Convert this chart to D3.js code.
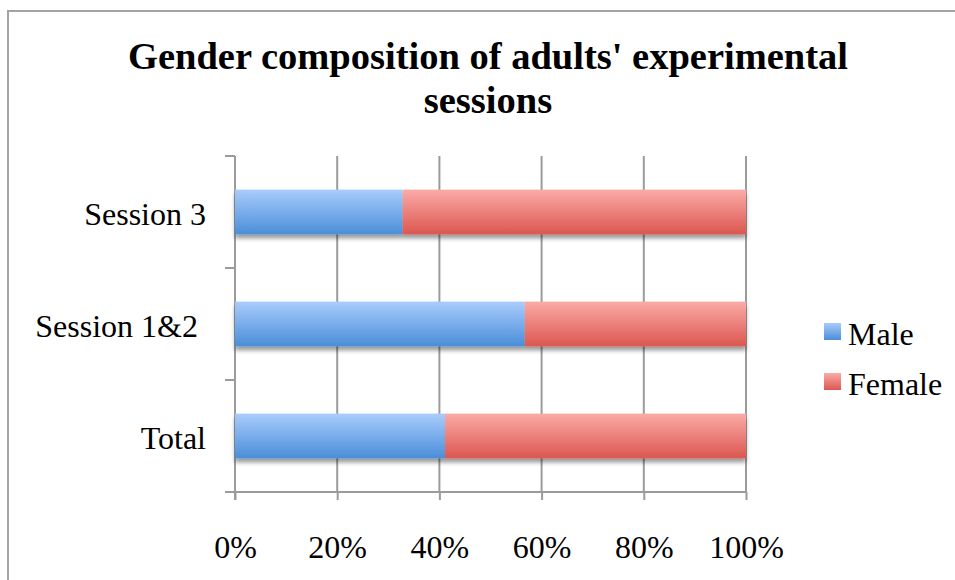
<!DOCTYPE html>
<html>
<head>
<meta charset="utf-8">
<script src="https://cdn.jsdelivr.net/npm/d3@7"></script>
<style>
  html, body { margin: 0; padding: 0; background: #fff; }
  svg { display: block; }
</style>
</head>
<body>
<script>
// Gender share per session (fractions of each session's participants)
const categories = ["Session 3", "Session 1&2 ", "Total"];
const maleShare = [0.328, 0.567, 0.411];
const femaleShare = [0.672, 0.433, 0.589];
const seriesNames = ["Male", "Female"];
const tickValues = [0, 0.2, 0.4, 0.6, 0.8, 1.0];

const FONT = "'Liberation Serif', 'Times New Roman', Tinos, 'DejaVu Serif', serif";

const W = 955, H = 580;
const svg = d3.select("body").append("svg").attr("width", W).attr("height", H);

const defs = svg.append("defs");
function grad(id, c1, c2) {
  const g = defs.append("linearGradient").attr("id", id)
    .attr("x1", 0).attr("y1", 0).attr("x2", 0).attr("y2", 1);
  g.append("stop").attr("offset", "0%").attr("stop-color", c1);
  g.append("stop").attr("offset", "100%").attr("stop-color", c2);
}
grad("gMale", "#a9ccfc", "#4a8ed9");
grad("gFemale", "#fbaba7", "#dc5650");

const shadow = defs.append("filter").attr("id", "shadow")
  .attr("x", "-5%").attr("y", "-10%").attr("width", "110%").attr("height", "140%");
shadow.append("feGaussianBlur").attr("in", "SourceAlpha").attr("stdDeviation", 2.2);
shadow.append("feOffset").attr("dx", 0).attr("dy", 4).attr("result", "ob");
shadow.append("feComponentTransfer").append("feFuncA").attr("type", "linear").attr("slope", 0.4);
const merge = shadow.append("feMerge");
merge.append("feMergeNode");
merge.append("feMergeNode").attr("in", "SourceGraphic");

// Outer chart frame
svg.append("rect").attr("x", 8).attr("y", 11).attr("width", W + 20).attr("height", H + 20)
  .attr("fill", "none").attr("stroke", "#a3a3a3").attr("stroke-width", 2);

// Title
const title = svg.append("text").attr("text-anchor", "middle")
  .style("font-family", FONT).attr("fill", "#000")
  .attr("font-weight", "bold").attr("font-size", 38.5);
title.append("tspan").attr("x", 488).attr("y", 69).text("Gender composition of adults' experimental");
title.append("tspan").attr("x", 488).attr("y", 113).text("sessions");

const plotLeft = 235, plotRight = 746, plotTop = 156, plotBottom = 492;
const x = d3.scaleLinear().domain([0, 1]).range([plotLeft, plotRight]);
const y = d3.scaleBand().domain(categories).range([plotTop, plotBottom]).paddingInner(0.6).paddingOuter(0.3);
const yTicks = d3.scaleBand().domain(categories).range([plotTop, plotBottom]);

const axisColor = "#9b9b9b";

// Vertical gridlines
svg.append("g").selectAll("line").data(tickValues.slice(1)).join("line")
  .attr("x1", d => x(d)).attr("x2", d => x(d))
  .attr("y1", plotTop).attr("y2", plotBottom)
  .attr("stroke", axisColor).attr("stroke-width", 2);

// X axis
const xAxis = svg.append("g").attr("transform", `translate(0,${plotBottom})`)
  .call(d3.axisBottom(x).tickValues(tickValues).tickFormat(d3.format(".0%")).tickSize(8).tickPadding(35));
xAxis.select(".domain").remove();
xAxis.selectAll(".tick line").attr("stroke", axisColor).attr("stroke-width", 2);
xAxis.selectAll(".tick text").attr("font-size", 32)
  .style("font-family", FONT).attr("fill", "#000");
svg.append("line").attr("x1", 225).attr("x2", plotRight + 1).attr("y1", plotBottom).attr("y2", plotBottom)
  .attr("stroke", axisColor).attr("stroke-width", 2);

// Y axis line and tick marks at band boundaries
svg.append("line").attr("x1", plotLeft).attr("x2", plotLeft).attr("y1", plotTop).attr("y2", plotBottom + 8)
  .attr("stroke", axisColor).attr("stroke-width", 2);
const boundaries = categories.map(c => yTicks(c)).concat([plotBottom]);
svg.append("g").selectAll("line").data(boundaries).join("line")
  .attr("x1", 225).attr("x2", plotLeft).attr("y1", d => d).attr("y2", d => d)
  .attr("stroke", axisColor).attr("stroke-width", 2);

// Category labels
svg.append("g").selectAll("text").data(categories).join("text")
  .attr("x", 206).attr("y", d => yTicks(d) + yTicks.bandwidth() / 2 + 13)
  .style("font-family", FONT).style("white-space", "pre").attr("fill", "#000")
  .attr("text-anchor", "end").attr("font-size", 32).text(d => d);

// Stacked bars
const rows = categories.map((c, i) => ({ c, m: maleShare[i], f: femaleShare[i] }));
const bars = svg.append("g").attr("filter", "url(#shadow)");
bars.selectAll("rect.male").data(rows).join("rect").attr("class", "male")
  .attr("x", x(0)).attr("y", d => y(d.c))
  .attr("width", d => x(d.m) - x(0)).attr("height", y.bandwidth())
  .attr("fill", "url(#gMale)");
bars.selectAll("rect.female").data(rows).join("rect").attr("class", "female")
  .attr("x", d => x(d.m)).attr("y", d => y(d.c))
  .attr("width", d => x(d.m + d.f) - x(d.m)).attr("height", y.bandwidth())
  .attr("fill", "url(#gFemale)");

// Legend
const legend = svg.append("g");
const fills = ["url(#gMale)", "url(#gFemale)"];
seriesNames.forEach((name, i) => {
  const yy = 323 + i * 50;
  legend.append("rect").attr("x", 824).attr("y", yy).attr("width", 17).attr("height", 17)
    .attr("fill", fills[i]);
  legend.append("text").attr("x", 848).attr("y", yy + 22).attr("font-size", 32)
    .style("font-family", FONT).attr("fill", "#000").text(name);
});
</script>
</body>
</html>
